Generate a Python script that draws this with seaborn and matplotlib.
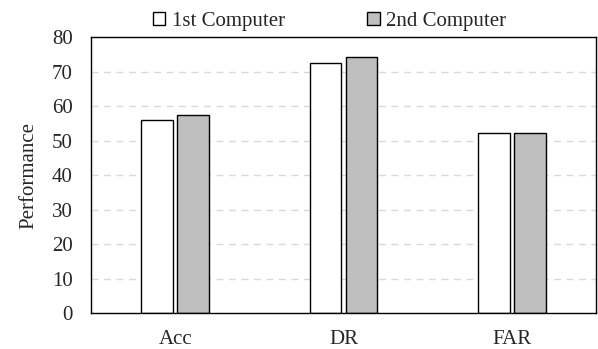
import matplotlib
matplotlib.use("Agg")
import matplotlib.pyplot as plt
import seaborn as sns
import pandas as pd

categories = ["Acc", "DR", "FAR"]
series_names = ["1st Computer", "2nd Computer"]
first_computer = [55.9, 72.5, 52.3]
second_computer = [57.4, 74.1, 52.3]
colors = ["#FFFFFF", "#BFBFBF"]

sns.set_style("white")
plt.rcParams["font.family"] = ["Liberation Serif", "DejaVu Serif"]

df = pd.DataFrame({
    "Metric": categories * 2,
    "Value": first_computer + second_computer,
    "Series": [series_names[0]] * 3 + [series_names[1]] * 3,
})

fig = plt.figure(figsize=(5.98, 3.49), dpi=100)
ax = fig.add_axes([0.152, 0.103, 0.845, 0.791])

sns.barplot(data=df, x="Metric", y="Value", hue="Series", palette=colors,
            width=0.43, gap=0.13, edgecolor="black", linewidth=1.0,
            ax=ax, legend=True, errorbar=None)

ax.set_ylim(0, 80)
ax.set_yticks(range(0, 81, 10))
ax.set_xlim(-0.5, 2.5)
ax.yaxis.grid(True, linestyle=(0, (5, 4)), color="#D9D9D9", linewidth=1)
ax.set_axisbelow(True)
for s in ax.spines.values():
    s.set_visible(True)
    s.set_color("black")
    s.set_linewidth(1.0)
ax.tick_params(axis="y", length=0, labelsize=15, pad=13)
ax.tick_params(axis="x", length=0, labelsize=15, pad=12)
ax.set_xlabel("")
ax.set_ylabel("Performance", fontsize=15, labelpad=10)

handles, labels = ax.get_legend_handles_labels()
ax.legend(handles, labels, loc="lower center", bbox_to_anchor=(0.472, 0.985),
          ncol=2, frameon=False, fontsize=15, handlelength=0.6,
          handleheight=0.6, handletextpad=0.3, columnspacing=3.95,
          borderaxespad=0.1)

fig.savefig("out.png", dpi=100)
